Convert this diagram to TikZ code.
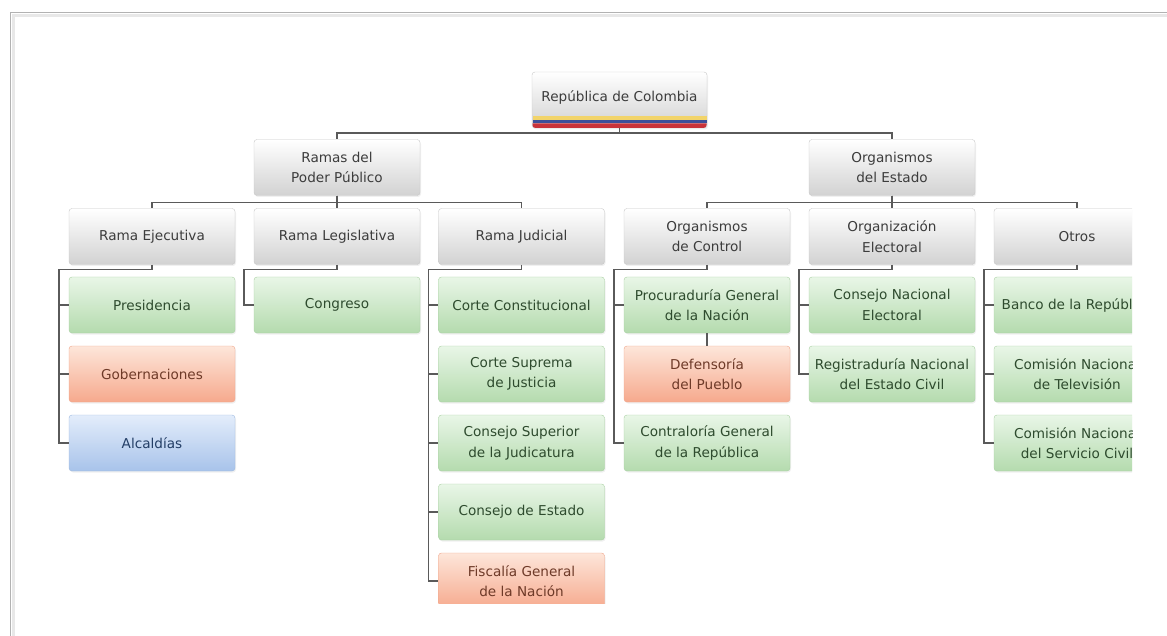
\documentclass[tikz,border=0pt]{standalone}
\usepackage{fontspec}
\setmainfont{DejaVu Sans}
\usetikzlibrary{shadows}
\definecolor{gtop}{HTML}{FFFFFF}
\definecolor{gbot}{HTML}{D2D2D2}
\definecolor{gdraw}{HTML}{C8C8C8}
\definecolor{grtop}{HTML}{E9F6E7}
\definecolor{grbot}{HTML}{B4DBAE}
\definecolor{grdraw}{HTML}{A9D0A3}
\definecolor{ortop}{HTML}{FDE6DA}
\definecolor{orbot}{HTML}{F6A98D}
\definecolor{ordraw}{HTML}{EFA58A}
\definecolor{bltop}{HTML}{E3EDFB}
\definecolor{blbot}{HTML}{A8C3EA}
\definecolor{bldraw}{HTML}{9DB9E0}
\definecolor{txgray}{HTML}{3C3C3C}
\definecolor{txgreen}{HTML}{2E4B2E}
\definecolor{txorange}{HTML}{6E3A28}
\definecolor{txblue}{HTML}{233E66}
\definecolor{conncol}{HTML}{5A5A5A}
\definecolor{flagY}{HTML}{F2D46A}
\definecolor{flagB}{HTML}{3B4F9A}
\definecolor{flagR}{HTML}{C8323A}
\tikzset{
  base/.style={rounded corners=3pt, minimum width=166pt, minimum height=56pt,
    align=center, inner sep=1pt, font=\fontsize{13.6}{20.5}\selectfont,
    drop shadow={opacity=0.12, shadow xshift=1pt, shadow yshift=-1.5pt}},
  graybox/.style={base, draw=gdraw, top color=gtop, bottom color=gbot, text=txgray},
  greenbox/.style={base, draw=grdraw, top color=grtop, bottom color=grbot, text=txgreen},
  orangebox/.style={base, draw=ordraw, top color=ortop, bottom color=orbot, text=txorange},
  bluebox/.style={base, draw=bldraw, top color=bltop, bottom color=blbot, text=txblue},
  conn/.style={draw=conncol, line width=1.4pt},
}
\begin{document}
\begin{tikzpicture}[x=1pt,y=-1pt]
\useasboundingbox (0,0) rectangle (1167,636);
% frame
\draw[gray!18, line width=3pt] (13,636) -- (13,16) -- (1167,16);
\draw[gray!60, line width=1pt] (10,636) -- (10,13) -- (1167,13);

% root
\node[graybox, minimum width=175pt] (root) at (619.5,100) {};
\fill[flagY] (532.5,116) rectangle (706.5,120);
\fill[flagB] (532.5,120) rectangle (706.5,123.5);
\fill[flagR] (532.5,123.5) [rounded corners=3pt]-- (532.5,128) -- (706.5,128) [sharp corners]-- (706.5,123.5) -- cycle;
\node[text=txgray, font=\fontsize{13.6}{20.5}\selectfont] (rootlbl) at (619.5,97) {República de Colombia};

% level 1
\node[graybox] (ramas) at (337,167.5) {Ramas del\\Poder Público};
\node[graybox] (estado) at (892,167.5) {Organismos\\del Estado};

% level 2
\node[graybox] (ejec) at (152,236.5) {Rama Ejecutiva};
\node[graybox] (legis) at (337,236.5) {Rama Legislativa};
\node[graybox] (judi) at (521.5,236.5) {Rama Judicial};
\node[graybox] (control) at (707,236.5) {Organismos\\de Control};
\node[graybox] (electo) at (892,236.5) {Organización\\Electoral};

% children
\node[greenbox] (pres) at (152,305) {Presidencia};
\node[orangebox] (gob) at (152,374) {Gobernaciones};
\node[bluebox] (alc) at (152,443) {Alcaldías};

\node[greenbox] (cong) at (337,305) {Congreso};

\node[greenbox] (cc) at (521.5,305) {Corte Constitucional};
\node[greenbox] (csj) at (521.5,374) {Corte Suprema\\de Justicia};
\node[greenbox] (csjud) at (521.5,443) {Consejo Superior\\de la Judicatura};
\node[greenbox] (ce) at (521.5,512) {Consejo de Estado};
\begin{scope}
\clip (0,0) rectangle (1167,603);
\node[orangebox] (fisc) at (521.5,581) {Fiscalía General\\de la Nación};
\end{scope}

\node[greenbox] (proc) at (707,305) {Procuraduría General\\de la Nación};
\node[orangebox] (def) at (707,374) {Defensoría\\del Pueblo};
\node[greenbox] (contra) at (707,443) {Contraloría General\\de la República};

\node[greenbox] (cne) at (892,305) {Consejo Nacional\\Electoral};
\node[greenbox] (reg) at (892,374) {Registraduría Nacional\\del Estado Civil};

\begin{scope}
\clip (0,0) rectangle (1132,636);
\node[graybox] (otros) at (1077,236.5) {Otros};
\node[greenbox] (banco) at (1077,305) {Banco de la República};
\node[greenbox] (cntv) at (1077,374) {Comisión Nacional\\de Televisión};
\node[greenbox] (cnsc) at (1077,443) {Comisión Nacional\\del Servicio Civil};
\end{scope}

% connectors
\draw[conn] (root.south) -- ++(0,5) -| (ramas.north);
\draw[conn] (root.south) -- ++(0,5) -| (estado.north);
\draw[conn] (ramas.south) -- ++(0,7) -| (ejec.north);
\draw[conn] (ramas.south) -- ++(0,7) -| (legis.north);
\draw[conn] (ramas.south) -- ++(0,7) -| (judi.north);
\draw[conn] (estado.south) -- ++(0,7) -| (control.north);
\draw[conn] (estado.south) -- ++(0,7) -| (electo.north);
\draw[conn] (estado.south) -- ++(0,7) -| (otros.north);

\draw[conn] (ejec.south) -- ++(0,5) -| ([xshift=-10pt]alc.west) -- (alc.west);
\draw[conn] ([xshift=-10pt]pres.west) -- (pres.west);
\draw[conn] ([xshift=-10pt]gob.west) -- (gob.west);

\draw[conn] (legis.south) -- ++(0,5) -| ([xshift=-10pt]cong.west) -- (cong.west);

\draw[conn] (judi.south) -- ++(0,5) -| ([xshift=-10pt]fisc.west) -- (fisc.west);
\draw[conn] ([xshift=-10pt]cc.west) -- (cc.west);
\draw[conn] ([xshift=-10pt]csj.west) -- (csj.west);
\draw[conn] ([xshift=-10pt]csjud.west) -- (csjud.west);
\draw[conn] ([xshift=-10pt]ce.west) -- (ce.west);

\draw[conn] (control.south) -- ++(0,5) -| ([xshift=-10pt]contra.west) -- (contra.west);
\draw[conn] ([xshift=-10pt]proc.west) -- (proc.west);
\draw[conn] (proc.south) -- (def.north);

\draw[conn] (electo.south) -- ++(0,5) -| ([xshift=-10pt]reg.west) -- (reg.west);
\draw[conn] ([xshift=-10pt]cne.west) -- (cne.west);

\draw[conn] (otros.south) -- ++(0,5) -| ([xshift=-10pt]cnsc.west) -- (cnsc.west);
\draw[conn] ([xshift=-10pt]banco.west) -- (banco.west);
\draw[conn] ([xshift=-10pt]cntv.west) -- (cntv.west);
\end{tikzpicture}
\end{document}
